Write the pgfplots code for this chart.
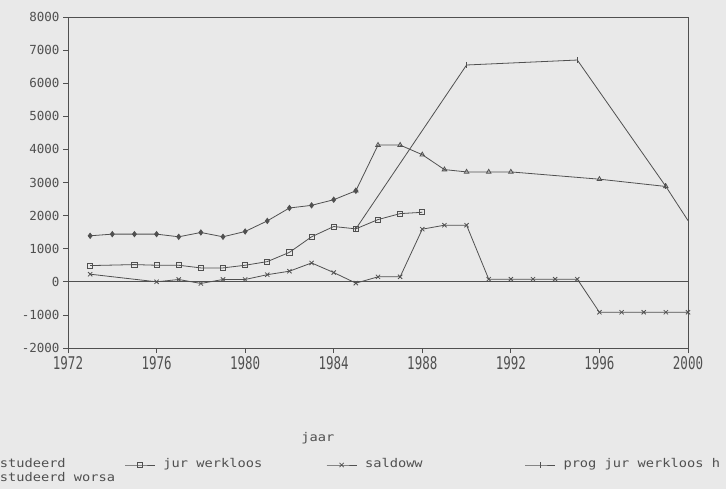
\documentclass[border=0pt]{standalone}
\usepackage{fontspec}
\setmainfont{DejaVu Sans Mono}
\newfontfamily\legfont[FakeStretch=1.14]{DejaVu Sans Mono}
\usepackage{graphicx}
\usepackage{pgfplots}
\pgfplotsset{compat=1.18}
\definecolor{ink}{HTML}{505050}
\definecolor{paper}{HTML}{E9E9E9}

\begin{document}
\begin{tikzpicture}
\path[use as bounding box, fill=paper] (0,0) rectangle (726bp,-489bp);
\begin{axis}[
  at={(68bp,-348bp)}, anchor=south west,
  scale only axis, width=620bp, height=331bp,
  xmin=1972, xmax=2000, ymin=-2000, ymax=8000,
  xtick={1972,1976,...,2000}, ytick={-2000,-1000,...,8000},
  tick align=outside, major tick length=5bp,
  xtick pos=bottom, ytick pos=left,
  axis line style={ink, line width=0.8pt},
  tick style={ink, line width=0.8pt},
  /pgf/number format/assume math mode=true,
  /pgf/number format/1000 sep={},
  every tick label/.append style={font=\fontsize{12.5bp}{14bp}\selectfont, text=ink},
  xticklabel={\scalebox{1}[1.4]{\pgfmathprintnumber{\tick}}},
  xlabel={jaar},
  every axis x label/.style={at={(axis description cs:0.403,-0.272)}, anchor=center,
     font=\legfont\fontsize{12bp}{14bp}\selectfont, text=ink},
  legend columns=4,
  legend cell align=left,
  legend image code/.code={\draw[mark repeat=2,mark phase=2] plot coordinates {(0bp,0bp) (15bp,0bp) (30bp,0bp)};},
  legend style={at={(axis description cs:-0.1725,-0.3323)}, anchor=north west,
     draw=none, fill=none, inner sep=0pt, outer sep=0pt,
     font=\legfont\fontsize{12bp}{14bp}\selectfont, text=ink,
     column sep=0pt,
     nodes={inner sep=0pt, text height=9bp, text depth=5bp},
     /tikz/column 1/.style={column sep=8bp},
     /tikz/column 2/.style={column sep=9.5bp},
     /tikz/column 3/.style={column sep=8bp},
     /tikz/column 4/.style={column sep=64bp},
     /tikz/column 5/.style={column sep=8bp},
     /tikz/column 6/.style={column sep=102bp},
     /tikz/column 7/.style={column sep=8bp}},
  every axis plot/.append style={ink, line width=0.8pt, mark size=2.6bp},
]
% zero line
\addplot[ink, line width=0.8pt, no marks, forget plot] coordinates {(1972,0) (2000,0)};

% afgestudeerd
\addplot[mark=diamond*, mark options={fill=ink}] coordinates {
 (1973,1390) (1974,1440) (1975,1440) (1976,1440) (1977,1360) (1978,1490)
 (1979,1360) (1980,1520) (1981,1840) (1982,2230) (1983,2310) (1984,2480) (1985,2750)};
\addlegendentry{studeerd}

% jur werkloos
\addplot[mark=square, mark options={solid}] coordinates {
 (1973,490) (1975,520) (1976,500) (1977,500) (1978,420) (1979,420) (1980,500)
 (1981,610) (1982,890) (1983,1360) (1984,1670) (1985,1600) (1986,1880)
 (1987,2060) (1988,2100)};
\addlegendentry{jur werkloos}

% saldoww
\addplot[mark=x, mark size=3bp] coordinates {
 (1973,230) (1976,0) (1977,70) (1978,-50) (1979,70) (1980,70) (1981,215)
 (1982,320) (1983,570) (1984,280) (1985,-40) (1986,150) (1987,150)
 (1988,1590) (1989,1710) (1990,1710) (1991,80) (1992,80) (1993,80) (1994,80)
 (1995,80) (1996,-920) (1997,-920) (1998,-920) (1999,-920) (2000,-920)};
\addlegendentry{saldoww}

% prog jur werkloos h
\addplot[mark=|, mark size=3bp] coordinates {
 (1985,1600) (1990,6550) (1995,6700) (1999,2880) (2000,1850)};
\addlegendentry{prog jur werkloos h}

% afgestudeerd worsa
\addplot[mark=triangle] coordinates {
 (1985,2750) (1986,4130) (1987,4130) (1988,3840) (1989,3390) (1990,3320)
 (1991,3320) (1992,3320) (1996,3100) (1999,2880)};
\addlegendentry{studeerd worsa}
\end{axis}
\end{tikzpicture}
\end{document}
